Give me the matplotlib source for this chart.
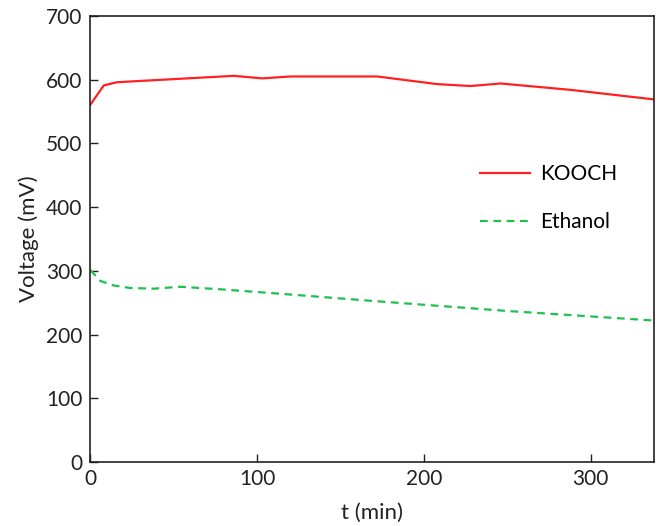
import matplotlib
matplotlib.use("Agg")
import matplotlib.pyplot as plt

# === data ===
t_kooch = [0, 8, 16, 86, 103, 120, 172, 208, 228, 246, 288, 338]
v_kooch = [561, 591, 596, 606, 602, 605, 605, 593, 590, 594, 584, 569]

t_eth = [0, 6, 14, 24, 38, 54, 78, 114, 168, 250, 338]
v_eth = [301, 284, 277, 273, 272, 275, 271, 264, 253, 237, 222]

x_ticks = [0, 100, 200, 300]
y_ticks = [0, 100, 200, 300, 400, 500, 600, 700]

plt.rcParams["font.family"] = ["Lato", "DejaVu Sans"]

fig = plt.figure(figsize=(6.59, 5.26), dpi=100)
ax = fig.add_axes([0.1373, 0.1217, 0.855, 0.848])

ax.plot(t_kooch, v_kooch, color="#ff2020", lw=1.6, label="KOOCH")
ax.plot(t_eth, v_eth, color="#1fbf50", lw=1.6, ls=(0, (3.5, 2.5)), label="Ethanol")

ax.set_xlim(0, 338)
ax.set_ylim(0, 700)
ax.set_xticks(x_ticks)
ax.set_yticks(y_ticks)
ax.tick_params(direction="in", length=6, width=1, labelsize=15, colors="#222222")
ax.tick_params(axis="y", pad=6)
ax.tick_params(axis="x", pad=5)
for s in ax.spines.values():
    s.set_linewidth(1.2)
    s.set_color("#222222")

ax.set_xlabel("t (min)", fontsize=16, color="#222222", labelpad=10)
ax.set_ylabel("Voltage (mV)", fontsize=16, color="#222222", labelpad=5)

ax.legend(loc="upper left", bbox_to_anchor=(0.658, 0.71), frameon=False,
          fontsize=15, handlelength=2.4, handletextpad=0.5, labelspacing=1.35)

fig.savefig("out.png", dpi=100)
